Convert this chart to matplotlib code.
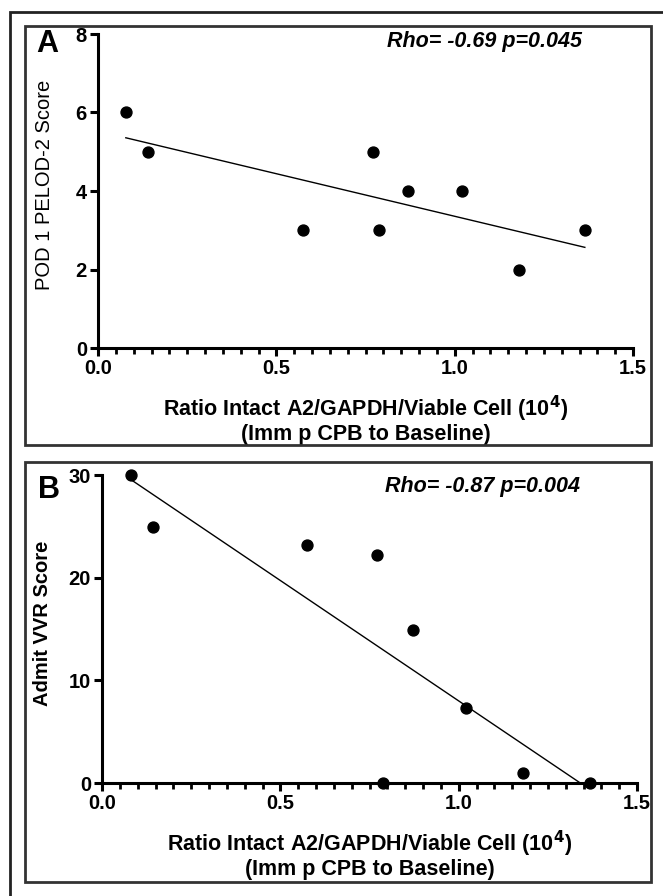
import numpy as np
import matplotlib
matplotlib.use("Agg")
import matplotlib.pyplot as plt
from matplotlib.patches import Rectangle
from matplotlib.ticker import MultipleLocator, FormatStrFormatter

plt.rcParams['font.family'] = ['Liberation Sans', 'DejaVu Sans']

# data
ratio = [0.078, 0.141, 0.574, 0.770, 0.789, 0.870, 1.021, 1.181, 1.365]
pelod = [6, 5, 3, 5, 3, 4, 4, 2, 3]

ratio_b = [0.082, 0.143, 0.576, 0.772, 0.789, 0.873, 1.021, 1.181, 1.367]
vvr = [30.0, 24.9, 23.2, 22.2, 0.0, 14.95, 7.26, 0.97, 0.0]

stats = ["Rho= -0.69 p=0.045", "Rho= -0.87 p=0.004"]
ylabels = ["POD 1 PELOD-2 Score", "Admit VVR Score"]
xlabel = "Ratio Intact A2/GAPDH/Viable Cell (10$^\\mathbf{4}$)\n(Imm p CPB to Baseline)"

fig = plt.figure(figsize=(6.63, 8.96), dpi=100)

# outer frame and panel boxes
fig.patches.append(Rectangle((10/663, -0.1), 1.2, 1 - 12/896 + 0.1, transform=fig.transFigure,
                             fill=False, lw=2, ec="#222222"))
fig.patches.append(Rectangle((25/663, 1 - 445/896), 626/663, 419/896, transform=fig.transFigure,
                             fill=False, lw=2, ec="#333333"))
fig.patches.append(Rectangle((25/663, 1 - 882/896), 626/663, 420/896, transform=fig.transFigure,
                             fill=False, lw=2, ec="#333333"))


def panel(rect, x, y, ymax, ystep, letter, stat, ylab, ylab_weight, ylab_pos, letter_pos, stat_pos):
    ax = fig.add_axes(rect)
    ax.scatter(x, y, s=62, c="black", zorder=3, clip_on=False)
    k, b = np.polyfit(x, y, 1)
    xs = np.array([min(x), max(x)])
    ax.plot(xs, k * xs + b, c="black", lw=1)
    ax.set_xlim(0, 1.5)
    ax.set_ylim(0, ymax)
    for s in ["top", "right"]:
        ax.spines[s].set_visible(False)
    for s in ["left", "bottom"]:
        ax.spines[s].set_linewidth(2.2)
    ax.xaxis.set_major_locator(MultipleLocator(0.5))
    ax.xaxis.set_minor_locator(MultipleLocator(0.05))
    ax.xaxis.set_major_formatter(FormatStrFormatter("%.1f"))
    ax.yaxis.set_major_locator(MultipleLocator(ystep))
    ax.tick_params(axis="both", which="major", width=2.2, length=6, labelsize=14.5, pad=2)
    ax.tick_params(axis="x", which="minor", width=2, length=4)
    for t in ax.get_xticklabels() + ax.get_yticklabels():
        t.set_fontweight("bold")
    ax.set_xlabel(xlabel, fontsize=15.5, fontweight="bold", labelpad=11, linespacing=1.0)
    ax.set_ylabel(ylab, fontsize=14.5, fontweight=ylab_weight)
    ax.yaxis.set_label_coords(*ylab_pos)
    ax.text(*letter_pos, letter, transform=ax.transAxes, fontsize=22,
            fontweight="bold", ha="left", va="top")
    ax.text(*stat_pos, stat, transform=ax.transAxes, fontsize=15.5, fontweight="bold",
            style="italic", ha="center", va="top")
    return ax


panel([98/663, 1 - 348/896, 535/663, 314/896], ratio, pelod, 8, 2, "A",
      stats[0], ylabels[0], "normal", (-0.083, 0.52), (-0.115, 1.015), (0.723, 1.01))
panel([102/663, 1 - 783/896, 535/663, 308/896], ratio_b, vvr, 30, 10, "B",
      stats[1], ylabels[1], "bold", (-0.093, 0.52), (-0.12, 1.0), (0.712, 0.997))

fig.savefig("out.png", dpi=100)
